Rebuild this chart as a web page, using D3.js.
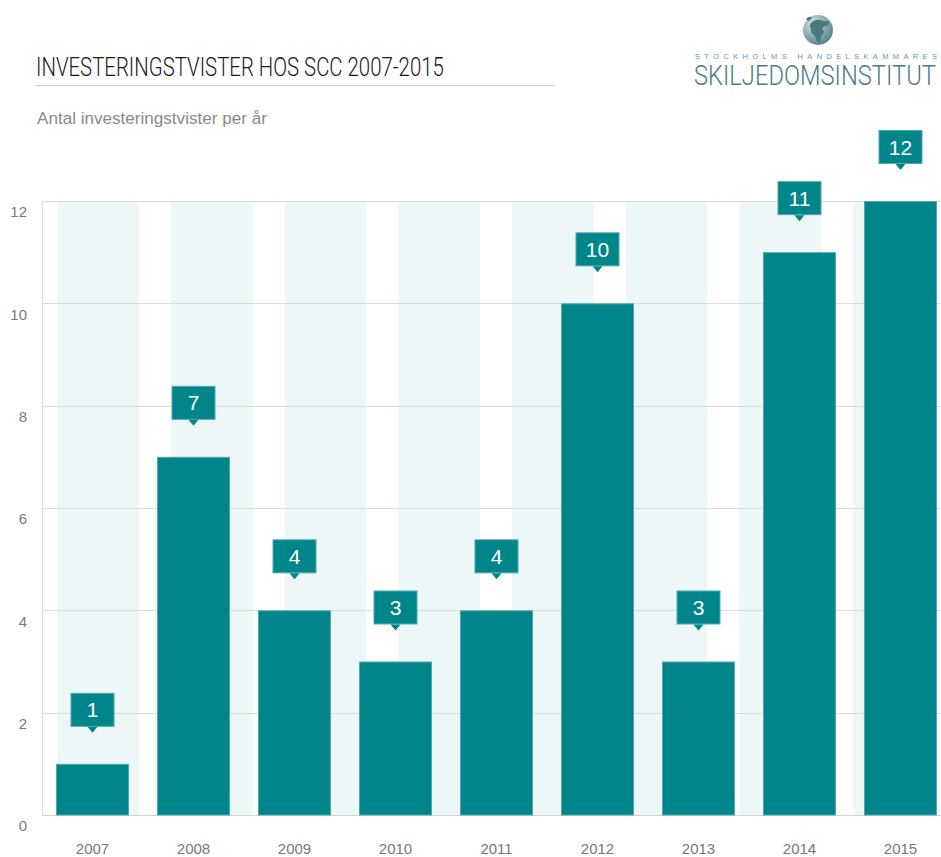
<!DOCTYPE html>
<html>
<head>
<meta charset="utf-8">
<script src="https://cdn.jsdelivr.net/npm/d3@7"></script>
<style>
  body { margin: 0; background: #fff; }
  text { font-family: "Liberation Sans", Arial, sans-serif; }
</style>
</head>
<body>
<div id="chart"></div>
<script>
////////////////////////////////////////////////////////////////////////
// Data

let years = ["2007", "2008", "2009", "2010", "2011", "2012", "2013", "2014", "2015"];
let disputes = [1, 7, 4, 3, 4, 10, 3, 11, 12];
let yTicks = [0, 2, 4, 6, 8, 10, 12];
let stripes = [0, 1, 2, 3, 4, 5, 6, 7];   // decorative background columns

let titleText = "INVESTERINGSTVISTER HOS SCC 2007-2015";
let subtitleText = "Antal investeringstvister per år";
let logoTop = "STOCKHOLMS HANDELSKAMMARES";
let logoMain = "SKILJEDOMSINSTITUT";

////////////////////////////////////////////////////////////////////////
// Svg + scales

let width = 941;
let height = 857;
let left = 42, right = 941;
let teal = "#00868a";

let svg = d3.select("#chart")
  .append("svg")
  .attr("width", width).attr("height", height);

let yScale = d3.scaleLinear()
  .domain([0, 12])
  .range([815, 201]);

let xScale = d3.scaleBand()
  .domain(years)
  .range([56, 937])
  .paddingInner(0.277)
  .paddingOuter(0);

let stripeScale = d3.scaleBand()
  .domain(stripes)
  .range([57, 935])
  .paddingInner(0.28)
  .paddingOuter(0);

// squeeze a text horizontally so it is exactly w pixels wide
function fitText(sel, x, y, w) {
  let natural = sel.node().getComputedTextLength();
  sel.attr("transform", "translate(" + x + "," + y + ") scale(" + (w / natural) + ",1)");
}

////////////////////////////////////////////////////////////////////////
// Title block

let title = svg.append("text")
  .style("font-family", "Roboto, 'Liberation Sans', sans-serif")
  .style("font-weight", 300)
  .style("font-size", "25px")
  .style("fill", "#1a1a1a")
  .text(titleText);
fitText(title, 36, 76, 408);

svg.append("line")
  .attr("x1", 35).attr("x2", 555)
  .attr("y1", 85.5).attr("y2", 85.5)
  .style("stroke", "#cfcfcf");

let subtitle = svg.append("text")
  .style("font-size", "16px")
  .style("fill", "#8a8a8a")
  .text(subtitleText);
fitText(subtitle, 37, 124, 230);

// logo
let defs = svg.append("defs");
let grad = defs.append("radialGradient")
  .attr("id", "globe").attr("cx", "35%").attr("cy", "30%").attr("r", "75%");
grad.append("stop").attr("offset", "0%").attr("stop-color", "#d3e3e4");
grad.append("stop").attr("offset", "55%").attr("stop-color", "#8aaeb1");
grad.append("stop").attr("offset", "100%").attr("stop-color", "#557f85");

svg.append("circle")
  .attr("cx", 818).attr("cy", 30).attr("r", 15)
  .style("fill", "url(#globe)");

// rough land masses on the globe
svg.append("path")
  .attr("d", "M812,22 q4,-3 9,-2 q3,2 7,1 q2,3 -1,5 q-4,0 -5,3 q3,2 1,5 q-3,3 -2,7 q-3,2 -5,-1 q0,-4 -3,-6 q-3,-2 -2,-6 q-3,-2 1,-6 z")
  .style("fill", "#4a787e");
svg.append("path")
  .attr("d", "M806,19 q3,-3 6,-2 q-1,3 -4,4 z")
  .style("fill", "#4a787e");

svg.append("text")
  .attr("x", 695).attr("y", 58.5)
  .attr("textLength", 242).attr("lengthAdjust", "spacing")
  .style("font-size", "7.5px")
  .style("fill", "#6d979b")
  .text(logoTop);

let logo = svg.append("text")
  .style("font-family", "Roboto, 'Liberation Sans', sans-serif")
  .style("font-weight", 300)
  .style("font-size", "27px")
  .style("fill", "#4b7c83")
  .text(logoMain);
fitText(logo, 694, 85, 242);

////////////////////////////////////////////////////////////////////////
// Plot background

svg.append("g")
  .selectAll("rect")
  .data(stripes)
  .enter()
  .append("rect")
  .attr("x", function(d) { return stripeScale(d); })
  .attr("y", yScale(12))
  .attr("width", stripeScale.bandwidth())
  .attr("height", yScale(0) - yScale(12))
  .style("fill", "#eef7f7");

// horizontal gridlines
svg.append("g")
  .selectAll("line")
  .data(yTicks)
  .enter()
  .append("line")
  .attr("x1", left).attr("x2", right)
  .attr("y1", function(d) { return Math.round(yScale(d)) + 0.5; })
  .attr("y2", function(d) { return Math.round(yScale(d)) + 0.5; })
  .style("stroke", function(d) { return d === 0 ? "#d2d2d2" : "#dcdcdc"; })
  .style("stroke-width", 1.2);

// left axis line
svg.append("line")
  .attr("x1", left + 0.5).attr("x2", left + 0.5)
  .attr("y1", yScale(12)).attr("y2", yScale(0))
  .style("stroke", "#dcdcdc")
  .style("stroke-width", 1.2);

// y tick labels (sitting just under each gridline)
let yAxis = d3.axisLeft(yScale)
  .tickValues(yTicks)
  .tickSize(0)
  .tickPadding(0);

let yAxisG = svg.append("g")
  .attr("transform", "translate(27,11)")
  .call(yAxis);
yAxisG.select(".domain").remove();
yAxisG.selectAll("text")
  .style("font-family", "'Liberation Sans', Arial, sans-serif")
  .style("font-size", "15px")
  .style("fill", "#7a7a7a");

// x labels
let xAxis = d3.axisBottom(xScale)
  .tickSize(0)
  .tickPadding(0);

let xAxisG = svg.append("g")
  .attr("transform", "translate(0,849)")
  .call(xAxis);
xAxisG.select(".domain").remove();
xAxisG.selectAll("text")
  .attr("dy", "0.35em")
  .style("font-family", "'Liberation Sans', Arial, sans-serif")
  .style("font-size", "15px")
  .style("fill", "#777");

////////////////////////////////////////////////////////////////////////
// Bars

let rows = years.map(function(y, i) { return { year: y, value: disputes[i] }; });

svg.append("g")
  .selectAll(".bar")
  .data(rows)
  .enter()
  .append("rect")
  .attr("class", "bar")
  .attr("x", function(d) { return xScale(d.year) + 0.5; })
  .attr("y", function(d) { return yScale(d.value) + 0.5; })
  .attr("width", xScale.bandwidth() - 1)
  .attr("height", function(d) { return yScale(0) - yScale(d.value) - 0.5; })
  .style("fill", teal)
  .style("stroke", "#4fa9ac")
  .style("stroke-width", 1);

////////////////////////////////////////////////////////////////////////
// Value callouts

let boxW = 44, boxH = 34, gap = 37;

let callouts = svg.append("g")
  .selectAll(".callout")
  .data(rows)
  .enter()
  .append("g")
  .attr("class", "callout")
  .attr("transform", function(d) {
    let cx = xScale(d.year) + xScale.bandwidth() / 2;
    return "translate(" + cx + "," + (yScale(d.value) - gap) + ")";
  });

callouts.append("rect")
  .attr("x", -boxW / 2 + 0.5)
  .attr("y", -boxH + 0.5)
  .attr("width", boxW - 1)
  .attr("height", boxH - 1)
  .style("fill", teal)
  .style("stroke", "#4fa9ac");

callouts.append("path")
  .attr("d", "M-5,0 L5,0 L0,6 Z")
  .style("fill", teal);

callouts.append("text")
  .attr("x", 0)
  .attr("y", -boxH / 2)
  .attr("dy", "0.36em")
  .attr("text-anchor", "middle")
  .style("font-size", "21px")
  .style("fill", "#fff")
  .text(function(d) { return d.value; });
</script>
</body>
</html>
